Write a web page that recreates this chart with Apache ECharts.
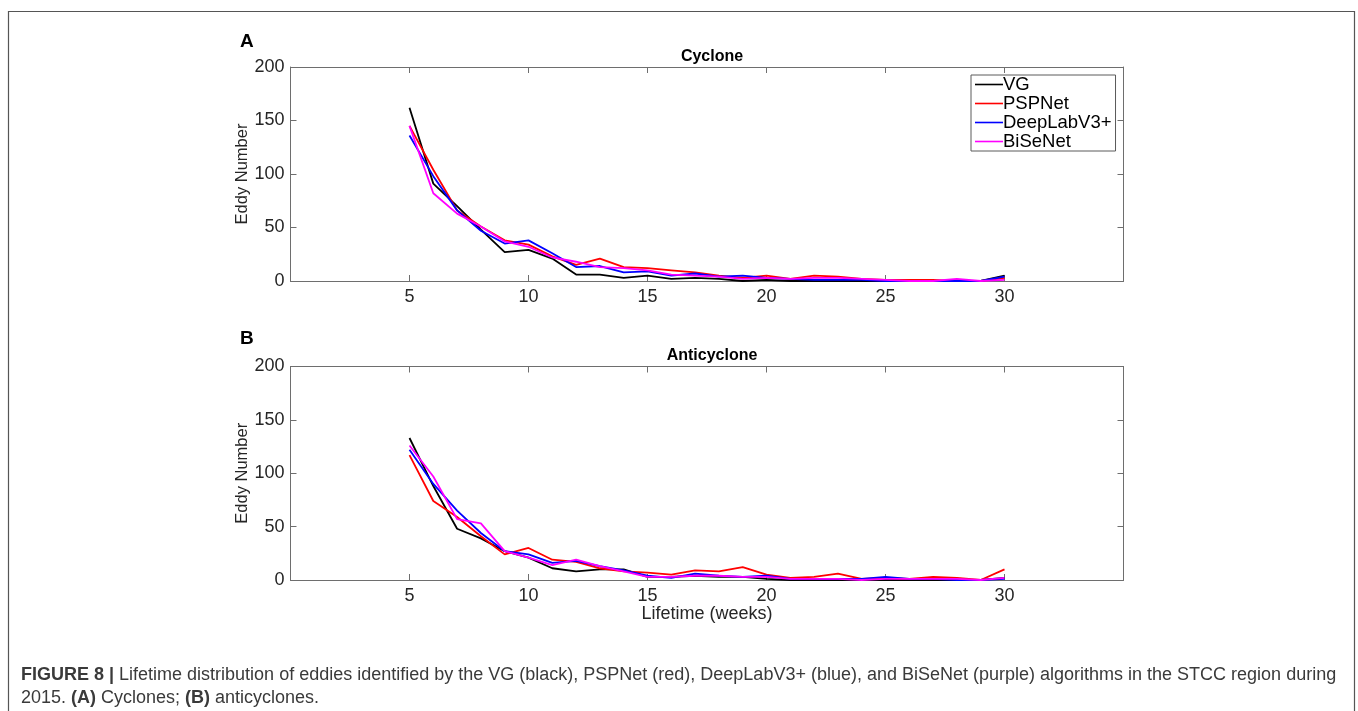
<!DOCTYPE html>
<html>
<head>
<meta charset="utf-8">
<script src="https://cdn.jsdelivr.net/npm/echarts@6/dist/echarts.min.js"></script>
<style>
    html, body {margin: 0; padding: 0; background: #fff;}
    #chart {width: 1358px; height: 711px;}
</style>
</head>
<body>
<div id="chart"></div>
<script>
var lifetime = [5, 6, 7, 8, 9, 10, 11, 12, 13, 14, 15, 16, 17, 18, 19, 20, 21, 22, 23, 24, 25, 26, 27, 28, 29, 30];
var seriesNames = ['VG', 'PSPNet', 'DeepLabV3+', 'BiSeNet'];
var seriesColors = ['#000000', '#ff0000', '#0000ff', '#ff00ff'];
var yTicks = [0, 50, 100, 150, 200];
var xTicks = [5, 10, 15, 20, 25, 30];

// (A) Cyclone
var cycVG = [162, 91, 70, 48, 27, 29, 21, 6, 6, 3, 5, 2, 3, 2, 0, 1, 0, 0, 0, 0, 0, 0, 0, 0, 0, 5];
var cycPSP = [145, 104, 66, 51, 38, 34, 23, 15, 21, 13, 12, 10, 8, 5, 3, 5, 2, 5, 4, 2, 1, 1, 1, 0, 0, 3];
var cycDeep = [136, 98, 66, 47, 35, 38, 26, 13, 14, 8, 9, 5, 7, 4, 5, 3, 2, 1, 1, 1, 0, 0, 0, 0, 0, 4];
var cycBiSe = [145, 82, 63, 51, 37, 32, 22, 18, 13, 12, 10, 6, 5, 4, 2, 3, 2, 3, 3, 2, 1, 0, 0, 2, 0, 1];

// (B) Anticyclone
var antiVG = [133, 88, 48, 39, 27, 21, 11, 8, 10, 10, 3, 3, 4, 3, 3, 1, 0, 0, 0, 0, 0, 0, 0, 0, 0, 2];
var antiPSP = [117, 74, 59, 41, 24, 30, 19, 17, 11, 8, 7, 5, 9, 8, 12, 5, 2, 3, 6, 1, 2, 1, 3, 2, 0, 10];
var antiDeep = [122, 90, 65, 44, 27, 24, 16, 18, 13, 9, 4, 2, 6, 4, 3, 4, 1, 1, 1, 1, 3, 1, 1, 0, 0, 1];
var antiBiSe = [126, 97, 57, 53, 27, 21, 14, 19, 13, 8, 3, 3, 4, 4, 3, 3, 1, 1, 1, 0, 1, 1, 1, 1, 0, 2];

var panels = [
    {title: 'Cyclone', letter: 'A', data: [cycVG, cycPSP, cycDeep, cycBiSe]},
    {title: 'Anticyclone', letter: 'B', data: [antiVG, antiPSP, antiDeep, antiBiSe]}
];

var fontName = '"Liberation Sans", Arial, sans-serif';
var axisGrey = '#6e6e6e';
var textDark = '#262626';

var pairs = function (values) {
    var out = [];
    for (var i = 0; i < lifetime.length; i++) {
        out.push([lifetime[i], values[i]]);
    }
    return out;
};

var grids = [
    {left: 290.5, width: 833, top: 67, height: 214},
    {left: 290.5, width: 833, top: 366.5, height: 213.5}
];

var boxLine = {show: true, onZero: false, lineStyle: {color: axisGrey, width: 1}};
var boxTick = {show: true, inside: true, length: 6, lineStyle: {color: axisGrey}};

var xAxes = [], yAxes = [], series = [], titles = [];
for (var p = 0; p < panels.length; p++) {
    // bottom axis with labels
    xAxes.push({
        type: 'value', gridIndex: p, position: 'bottom', min: 0, max: 35, interval: 5,
        axisLine: boxLine, axisTick: boxTick,
        axisLabel: {
            color: textDark, fontSize: 18, fontFamily: fontName, margin: 7,
            formatter: function (v) { return xTicks.indexOf(v) >= 0 ? String(v) : ''; }
        },
        splitLine: {show: false},
        name: p === 1 ? 'Lifetime (weeks)' : '',
        nameLocation: 'middle', nameGap: 25, nameMoveOverlap: false,
        nameTextStyle: {color: textDark, fontSize: 18, fontFamily: fontName}
    });
    // mirrored top axis (box)
    xAxes.push({
        type: 'value', gridIndex: p, position: 'top', min: 0, max: 35, interval: 5,
        axisLine: boxLine, axisTick: boxTick,
        axisLabel: {show: false}, splitLine: {show: false}
    });
    yAxes.push({
        type: 'value', gridIndex: p, position: 'left', min: 0, max: 200, interval: 50,
        axisLine: boxLine, axisTick: boxTick,
        axisLabel: {
            color: textDark, fontSize: 18, fontFamily: fontName, margin: 6,
            formatter: function (v) { return yTicks.indexOf(v) >= 0 ? String(v) : ''; }
        },
        splitLine: {show: false},
        name: 'Eddy Number', nameLocation: 'middle', nameGap: 40, nameRotate: 90,
        nameMoveOverlap: false,
        nameTextStyle: {color: textDark, fontSize: 16.5, fontFamily: fontName}
    });
    yAxes.push({
        type: 'value', gridIndex: p, position: 'right', min: 0, max: 200, interval: 50,
        axisLine: boxLine, axisTick: boxTick,
        axisLabel: {show: false}, splitLine: {show: false}
    });
    for (var s = 0; s < seriesNames.length; s++) {
        series.push({
            name: seriesNames[s],
            type: 'line',
            xAxisIndex: p * 2,
            yAxisIndex: p * 2,
            data: pairs(panels[p].data[s]),
            showSymbol: false,
            symbol: 'none',
            animation: false,
            lineStyle: {color: seriesColors[s], width: 1.8},
            itemStyle: {color: seriesColors[s]},
            z: 2 + s
        });
    }
    titles.push({
        text: panels[p].title, left: 707, top: p === 0 ? 44 : 343, textAlign: 'center',
        textStyle: {color: '#000', fontSize: 16, fontWeight: 'bold', fontFamily: fontName}
    });
    titles.push({
        text: panels[p].letter, left: 235, top: p === 0 ? 27 : 324,
        textStyle: {color: '#000', fontSize: 19, fontWeight: 'bold', fontFamily: fontName}
    });
}

var chart = echarts.init(document.getElementById('chart'), null, {renderer: 'canvas'});
chart.setOption({
    backgroundColor: '#fff',
    animation: false,
    title: titles,
    grid: grids,
    xAxis: xAxes,
    yAxis: yAxes,
    legend: {
        data: seriesNames,
        orient: 'vertical',
        left: 971, top: 75,
        icon: 'rect',
        itemWidth: 28, itemHeight: 1.6,
        itemGap: 0,
        padding: [0, 4, 0, 4],
        borderColor: '#5a5a5a', borderWidth: 1,
        backgroundColor: '#fff',
        textStyle: {color: '#000', fontSize: 18.5, fontFamily: fontName, lineHeight: 18.5, padding: [0, 0, 0, -5]}
    },
    series: series,
    graphic: [
        {
            type: 'rect', silent: true,
            shape: {x: 8.5, y: 11.5, width: 1346, height: 760},
            style: {fill: 'none', stroke: '#555', lineWidth: 1.2}
        },
        {
            type: 'text', left: 21, top: 664, silent: true,
            style: {
                text: '{b|FIGURE 8 |} Lifetime distribution of eddies identified by the VG (black), PSPNet (red), DeepLabV3+ (blue), and BiSeNet (purple) algorithms in the STCC region during\n2015. {b|(A)} Cyclones; {b|(B)} anticyclones.',
                font: '18px ' + fontName,
                fill: '#3a3a3a',
                lineHeight: 23,
                rich: {
                    b: {fontWeight: 'bold', fontSize: 18, fontFamily: fontName, fill: '#3a3a3a', lineHeight: 23}
                }
            }
        }
    ]
});
</script>
</body>
</html>
